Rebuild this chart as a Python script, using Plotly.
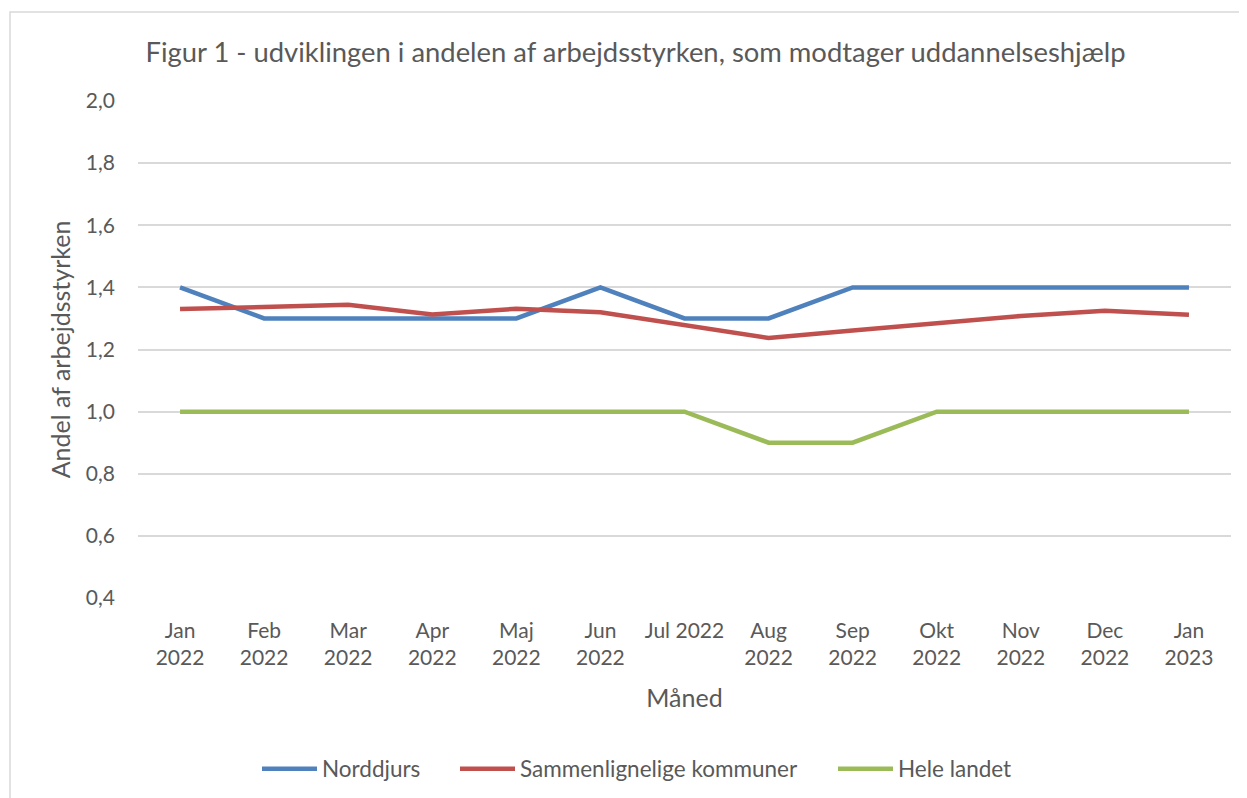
import plotly.graph_objects as go

months = ["Jan<br>2022", "Feb<br>2022", "Mar<br>2022", "Apr<br>2022", "Maj<br>2022", "Jun<br>2022",
          "Jul 2022", "Aug<br>2022", "Sep<br>2022", "Okt<br>2022", "Nov<br>2022", "Dec<br>2022", "Jan<br>2023"]
norddjurs = [1.4, 1.3, 1.3, 1.3, 1.3, 1.4, 1.3, 1.3, 1.4, 1.4, 1.4, 1.4, 1.4]
sammenlignelige = [1.330, 1.337, 1.344, 1.313, 1.331, 1.320, 1.278, 1.237, 1.261, 1.284, 1.308, 1.325, 1.312]
hele_landet = [1.0, 1.0, 1.0, 1.0, 1.0, 1.0, 1.0, 0.9, 0.9, 1.0, 1.0, 1.0, 1.0]

FONT = "Lato, Carlito, Calibri, sans-serif"
TXT = "#595959"

W, H = 1239, 790  # page body has an 8px margin

fig = go.Figure()
series = [("Norddjurs", norddjurs, "#4F81BD", "legend"),
          ("Sammenlignelige kommuner", sammenlignelige, "#C0504D", "legend2"),
          ("Hele landet", hele_landet, "#9BBB59", "legend3")]
for name, vals, col, lg in series:
    fig.add_trace(go.Scatter(x=months, y=vals, name=name, mode="lines", legend=lg,
                             line=dict(color=col, width=4.5)))

def leg(px):
    return dict(orientation="h", xref="container", x=(px - 8) / W, xanchor="left",
                yref="container", y=1 - (769 - 8) / H, yanchor="middle",
                font=dict(family=FONT, size=22.5, color=TXT), bgcolor="rgba(0,0,0,0)",
                itemwidth=55)

fig.update_layout(
    width=W, height=H,
    margin=dict(l=130, r=16, t=93, b=200, autoexpand=False),
    paper_bgcolor="white", plot_bgcolor="white",
    separators=",.",
    font=dict(family=FONT, color=TXT, size=21),
    title=dict(text="Figur 1 - udviklingen i andelen af arbejdsstyrken, som modtager uddannelseshjælp",
               font=dict(family=FONT, size=27.4, color=TXT),
               x=627.5 / W, xref="container", xanchor="center",
               y=1 - 44 / H, yref="container", yanchor="middle"),
    showlegend=True,
    legend=leg(257), legend2=leg(455), legend3=leg(833),
    xaxis=dict(type="category", range=[-0.5, 12.5], showgrid=False, showline=False,
               ticks="", ticklabelstandoff=18, tickfont=dict(family=FONT, size=21, color=TXT),
               title=dict(text="Måned", font=dict(family=FONT, size=25, color=TXT), standoff=21),
               fixedrange=True),
    yaxis=dict(range=[0.4, 2.0], dtick=0.2, tick0=0.4, tickformat=".1f",
               showgrid=True, gridcolor="#D9D9D9", gridwidth=1.5, zeroline=False,
               showline=False, ticks="", ticklabelstandoff=22,
               tickfont=dict(family=FONT, size=21, color=TXT),
               title=dict(text="Andel af arbejdsstyrken", font=dict(family=FONT, size=25, color=TXT), standoff=8)),
)

fig.add_shape(type="rect", xref="paper", yref="paper",
              x0=(10 - 138) / 1093, x1=1.2, y0=-0.6, y1=(598 - 12) / 497,
              line=dict(color="#D9D9D9", width=1.5), fillcolor="rgba(0,0,0,0)", layer="below")

fig.write_html("out.html")
